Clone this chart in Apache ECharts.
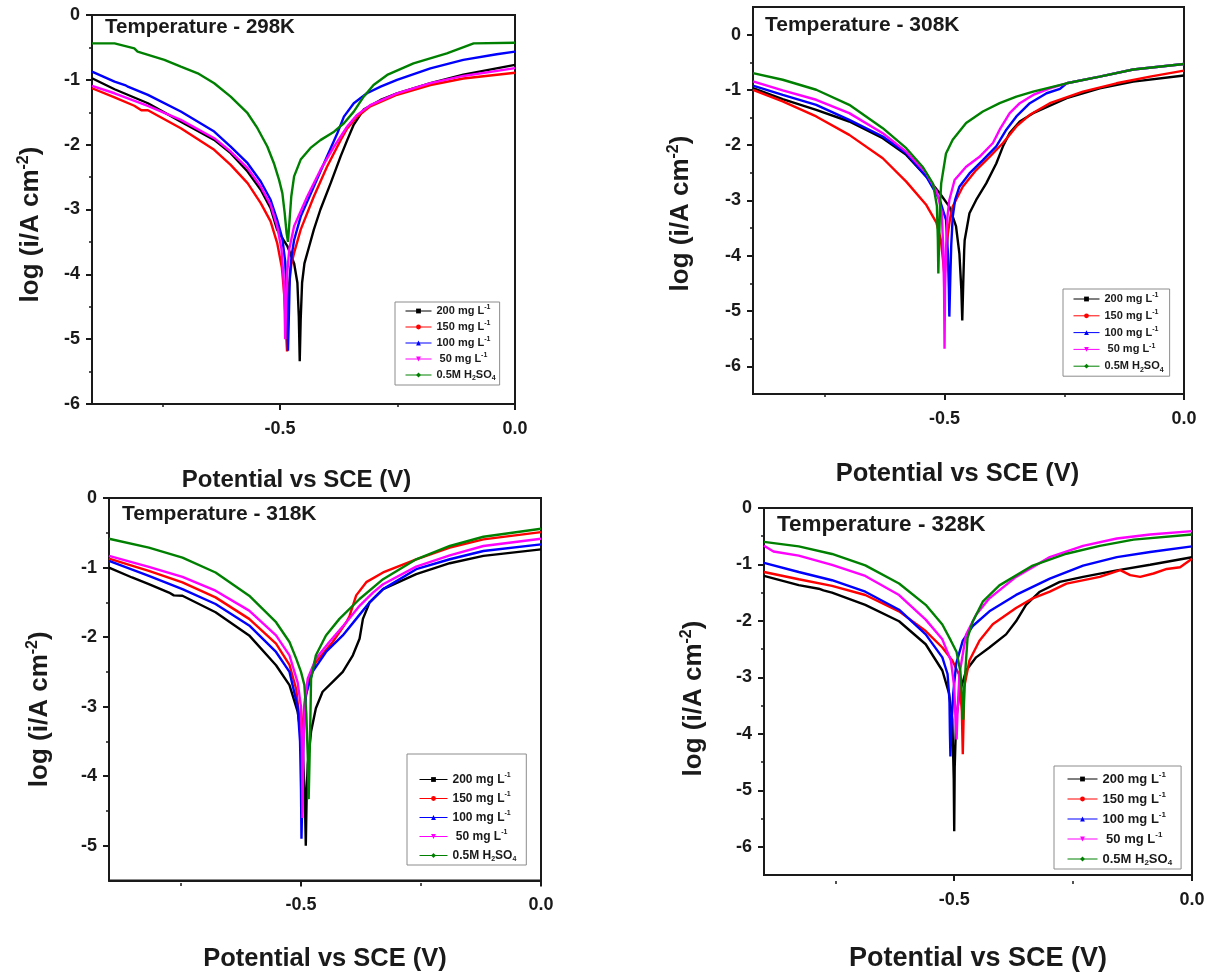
<!DOCTYPE html>
<html>
<head>
<meta charset="utf-8">
<script src="https://cdn.jsdelivr.net/npm/echarts@6/dist/echarts.min.js"></script>
<style>
  html, body { margin: 0; padding: 0; background: #fff; }
  #chart { width: 1221px; height: 975px; }
</style>
</head>
<body>
<div id="chart"></div>
<script>
// Potentiodynamic polarisation (Tafel) curves at four temperatures.
// Each curve: [potential vs SCE (V), log(i / A cm^-2)]

const seriesNames = ['200 mg L-1', '150 mg L-1', '100 mg L-1', '50 mg L-1', '0.5M H2SO4'];
const temperatures = ['298K', '308K', '318K', '328K'];
const xTickValues = [-0.5, 0];
const xMinorValues = [-0.75, -0.25];
const yTickValues = [
  [0, -1, -2, -3, -4, -5, -6],
  [0, -1, -2, -3, -4, -5, -6],
  [0, -1, -2, -3, -4, -5],
  [0, -1, -2, -3, -4, -5, -6]
];
const yMinorValues = [
  [-0.5, -1.5, -2.5, -3.5, -4.5, -5.5],
  [-0.5, -1.5, -2.5, -3.5, -4.5, -5.5],
  [-0.5, -1.5, -2.5, -3.5, -4.5],
  [-0.5, -1.5, -2.5, -3.5, -4.5, -5.5]
];
const yRanges = [[-6, 0], [-6.5, 0.5], [-5.5, 0], [-6.5, 0]];

// ---- 298 K ----
const t298_200 = [[-0.9,-0.976],[-0.852,-1.145],[-0.781,-1.361],[-0.711,-1.644],[-0.640,-1.926],[-0.605,-2.131],[-0.569,-2.414],[-0.541,-2.696],[-0.520,-2.979],[-0.506,-3.313],[-0.484,-3.57],[-0.470,-3.83],[-0.463,-4.13],[-0.460,-4.65],[-0.458,-5.34],[-0.456,-4.7],[-0.453,-4.13],[-0.448,-3.83],[-0.438,-3.57],[-0.428,-3.31],[-0.414,-3.0],[-0.392,-2.59],[-0.371,-2.18],[-0.357,-1.93],[-0.343,-1.69],[-0.322,-1.46],[-0.286,-1.31],[-0.251,-1.21],[-0.180,-1.05],[-0.110,-0.92],[0,-0.77]];
const t298_150 = [[-0.9,-1.13],[-0.852,-1.27],[-0.81,-1.40],[-0.795,-1.47],[-0.781,-1.47],[-0.711,-1.746],[-0.640,-2.080],[-0.605,-2.311],[-0.569,-2.594],[-0.541,-2.902],[-0.520,-3.184],[-0.506,-3.518],[-0.496,-3.9],[-0.490,-4.4],[-0.487,-4.9],[-0.485,-5.19],[-0.483,-4.8],[-0.481,-4.2],[-0.476,-3.85],[-0.470,-3.67],[-0.456,-3.31],[-0.428,-2.80],[-0.400,-2.34],[-0.371,-1.93],[-0.357,-1.75],[-0.336,-1.57],[-0.308,-1.41],[-0.251,-1.23],[-0.180,-1.08],[-0.110,-0.98],[0,-0.89]];
const t298_100 = [[-0.9,-0.873],[-0.852,-1.027],[-0.830,-1.08],[-0.825,-1.10],[-0.781,-1.233],[-0.711,-1.489],[-0.640,-1.798],[-0.605,-2.029],[-0.569,-2.286],[-0.541,-2.568],[-0.520,-2.850],[-0.506,-3.159],[-0.495,-3.45],[-0.489,-3.8],[-0.486,-4.3],[-0.484,-4.8],[-0.483,-5.18],[-0.481,-4.6],[-0.479,-4.0],[-0.475,-3.7],[-0.470,-3.47],[-0.456,-3.11],[-0.428,-2.645],[-0.400,-2.183],[-0.378,-1.823],[-0.364,-1.567],[-0.343,-1.361],[-0.315,-1.207],[-0.286,-1.104],[-0.251,-1.002],[-0.180,-0.822],[-0.110,-0.693],[-0.039,-0.606],[0,-0.565]];
const t298_50 = [[-0.9,-1.094],[-0.852,-1.207],[-0.781,-1.402],[-0.711,-1.618],[-0.640,-1.900],[-0.605,-2.106],[-0.569,-2.363],[-0.541,-2.645],[-0.520,-2.928],[-0.506,-3.261],[-0.497,-3.6],[-0.492,-4.1],[-0.490,-4.6],[-0.489,-5.0],[-0.487,-4.5],[-0.485,-4.0],[-0.480,-3.6],[-0.470,-3.26],[-0.442,-2.80],[-0.414,-2.39],[-0.385,-2.03],[-0.357,-1.72],[-0.336,-1.54],[-0.308,-1.39],[-0.251,-1.21],[-0.180,-1.05],[-0.110,-0.94],[0,-0.82]];
const t298_acid = [[-0.9,-0.437],[-0.852,-0.437],[-0.810,-0.514],[-0.803,-0.565],[-0.746,-0.693],[-0.711,-0.796],[-0.675,-0.899],[-0.640,-1.053],[-0.605,-1.258],[-0.569,-1.515],[-0.548,-1.746],[-0.527,-2.029],[-0.513,-2.286],[-0.502,-2.543],[-0.495,-2.748],[-0.490,-3.056],[-0.486,-3.364],[-0.483,-3.5],[-0.480,-3.2],[-0.476,-2.8],[-0.470,-2.49],[-0.456,-2.23],[-0.435,-2.05],[-0.414,-1.93],[-0.385,-1.80],[-0.364,-1.67],[-0.343,-1.49],[-0.322,-1.26],[-0.301,-1.08],[-0.272,-0.925],[-0.216,-0.745],[-0.145,-0.591],[-0.088,-0.437],[0,-0.427]];

// ---- 308 K ----
const t308_200 = [[-0.9,-0.967],[-0.838,-1.166],[-0.768,-1.360],[-0.699,-1.571],[-0.629,-1.873],[-0.580,-2.175],[-0.538,-2.568],[-0.510,-2.87],[-0.490,-3.11],[-0.476,-3.47],[-0.469,-3.96],[-0.465,-4.6],[-0.463,-5.17],[-0.461,-4.5],[-0.459,-3.9],[-0.458,-3.72],[-0.448,-3.23],[-0.434,-2.99],[-0.413,-2.69],[-0.392,-2.33],[-0.378,-2.02],[-0.364,-1.78],[-0.343,-1.57],[-0.315,-1.42],[-0.245,-1.15],[-0.176,-0.97],[-0.106,-0.85],[0,-0.74]];
const t308_150 = [[-0.9,-0.997],[-0.838,-1.208],[-0.768,-1.480],[-0.699,-1.813],[-0.629,-2.236],[-0.580,-2.659],[-0.538,-3.082],[-0.517,-3.4],[-0.508,-3.7],[-0.503,-4.1],[-0.500,-4.38],[-0.497,-4.0],[-0.493,-3.6],[-0.488,-3.3],[-0.483,-3.11],[-0.462,-2.75],[-0.434,-2.45],[-0.406,-2.21],[-0.378,-1.96],[-0.350,-1.66],[-0.322,-1.45],[-0.280,-1.24],[-0.211,-1.03],[-0.141,-0.88],[-0.071,-0.76],[0,-0.65]];
const t308_100 = [[-0.9,-0.924],[-0.838,-1.088],[-0.768,-1.269],[-0.699,-1.541],[-0.629,-1.843],[-0.580,-2.145],[-0.538,-2.568],[-0.510,-2.99],[-0.497,-3.35],[-0.493,-3.96],[-0.491,-4.6],[-0.490,-5.1],[-0.488,-4.4],[-0.486,-3.8],[-0.483,-3.3],[-0.478,-2.99],[-0.469,-2.75],[-0.448,-2.51],[-0.420,-2.27],[-0.392,-2.02],[-0.371,-1.72],[-0.350,-1.48],[-0.322,-1.24],[-0.287,-1.06],[-0.259,-0.98],[-0.245,-0.88],[-0.176,-0.76],[-0.106,-0.63],[0,-0.53]];
const t308_50 = [[-0.9,-0.846],[-0.838,-1.009],[-0.768,-1.178],[-0.699,-1.420],[-0.629,-1.782],[-0.580,-2.115],[-0.538,-2.508],[-0.516,-2.85],[-0.506,-3.2],[-0.503,-3.8],[-0.501,-4.6],[-0.500,-5.68],[-0.499,-4.6],[-0.497,-3.9],[-0.494,-3.3],[-0.490,-2.99],[-0.479,-2.63],[-0.455,-2.39],[-0.427,-2.21],[-0.399,-1.96],[-0.385,-1.72],[-0.364,-1.42],[-0.343,-1.24],[-0.315,-1.09],[-0.280,-0.97],[-0.245,-0.88],[-0.176,-0.76],[-0.106,-0.63],[0,-0.53]];
const t308_acid = [[-0.9,-0.695],[-0.838,-0.816],[-0.768,-0.997],[-0.699,-1.269],[-0.629,-1.692],[-0.580,-2.054],[-0.545,-2.40],[-0.524,-2.70],[-0.516,-3.1],[-0.514,-3.7],[-0.513,-4.32],[-0.511,-3.6],[-0.509,-3.0],[-0.507,-2.69],[-0.497,-2.15],[-0.483,-1.90],[-0.455,-1.60],[-0.420,-1.39],[-0.385,-1.24],[-0.350,-1.12],[-0.315,-1.03],[-0.245,-0.88],[-0.176,-0.76],[-0.106,-0.63],[0,-0.53]];

// ---- 318 K ----
const t318_200 = [[-0.9,-1.0],[-0.852,-1.143],[-0.817,-1.238],[-0.775,-1.36],[-0.765,-1.40],[-0.747,-1.405],[-0.678,-1.643],[-0.608,-1.976],[-0.552,-2.405],[-0.524,-2.690],[-0.507,-3.071],[-0.497,-3.55],[-0.492,-4.3],[-0.490,-5.0],[-0.488,-4.2],[-0.486,-3.833],[-0.479,-3.357],[-0.469,-3.024],[-0.455,-2.786],[-0.434,-2.643],[-0.413,-2.5],[-0.392,-2.262],[-0.378,-2.024],[-0.371,-1.738],[-0.357,-1.5],[-0.329,-1.31],[-0.260,-1.095],[-0.190,-0.938],[-0.120,-0.833],[0,-0.738]];
const t318_150 = [[-0.9,-0.871],[-0.817,-1.048],[-0.747,-1.214],[-0.678,-1.429],[-0.608,-1.738],[-0.552,-2.095],[-0.524,-2.40],[-0.510,-2.75],[-0.503,-3.2],[-0.499,-3.7],[-0.497,-3.3],[-0.493,-2.98],[-0.483,-2.6],[-0.469,-2.36],[-0.434,-2.07],[-0.406,-1.79],[-0.399,-1.70],[-0.385,-1.40],[-0.364,-1.21],[-0.329,-1.07],[-0.260,-0.881],[-0.190,-0.714],[-0.120,-0.595],[0,-0.49]];
const t318_100 = [[-0.9,-0.905],[-0.817,-1.119],[-0.747,-1.31],[-0.678,-1.524],[-0.608,-1.833],[-0.552,-2.214],[-0.524,-2.5],[-0.507,-3.0],[-0.502,-3.5],[-0.500,-4.2],[-0.499,-4.9],[-0.497,-4.2],[-0.495,-3.5],[-0.490,-2.833],[-0.476,-2.5],[-0.448,-2.214],[-0.413,-1.976],[-0.385,-1.738],[-0.357,-1.5],[-0.329,-1.31],[-0.260,-1.024],[-0.190,-0.881],[-0.120,-0.762],[0,-0.667]];
const t318_50 = [[-0.9,-0.833],[-0.817,-0.99],[-0.747,-1.133],[-0.678,-1.333],[-0.608,-1.619],[-0.552,-1.976],[-0.524,-2.262],[-0.507,-2.65],[-0.500,-3.0],[-0.498,-3.6],[-0.497,-4.6],[-0.495,-3.6],[-0.492,-2.9],[-0.486,-2.6],[-0.469,-2.31],[-0.441,-2.07],[-0.406,-1.79],[-0.378,-1.55],[-0.350,-1.36],[-0.329,-1.24],[-0.260,-0.986],[-0.190,-0.824],[-0.120,-0.690],[0,-0.586]];
const t318_acid = [[-0.9,-0.586],[-0.817,-0.714],[-0.747,-0.857],[-0.678,-1.071],[-0.608,-1.405],[-0.552,-1.786],[-0.524,-2.071],[-0.510,-2.31],[-0.500,-2.5],[-0.493,-2.69],[-0.489,-3.1],[-0.486,-3.7],[-0.484,-4.33],[-0.482,-3.7],[-0.480,-3.0],[-0.479,-2.6],[-0.469,-2.262],[-0.448,-1.976],[-0.420,-1.738],[-0.378,-1.452],[-0.329,-1.167],[-0.260,-0.881],[-0.190,-0.690],[-0.120,-0.557],[0,-0.443]];

// ---- 328 K ----
const t328_200 = [[-0.9,-1.203],[-0.827,-1.366],[-0.785,-1.43],[-0.775,-1.46],[-0.757,-1.50],[-0.687,-1.715],[-0.616,-2.006],[-0.560,-2.413],[-0.525,-2.878],[-0.511,-3.28],[-0.504,-3.75],[-0.501,-4.8],[-0.500,-5.727],[-0.499,-4.6],[-0.496,-3.75],[-0.489,-3.285],[-0.475,-2.878],[-0.454,-2.645],[-0.426,-2.471],[-0.391,-2.238],[-0.370,-2.006],[-0.349,-1.715],[-0.320,-1.483],[-0.278,-1.308],[-0.229,-1.221],[-0.158,-1.105],[-0.088,-1.006],[0,-0.872]];
const t328_150 = [[-0.9,-1.134],[-0.827,-1.262],[-0.757,-1.378],[-0.687,-1.541],[-0.616,-1.831],[-0.560,-2.180],[-0.525,-2.471],[-0.504,-2.7],[-0.490,-2.95],[-0.484,-3.6],[-0.482,-4.36],[-0.480,-3.6],[-0.479,-3.17],[-0.468,-2.70],[-0.447,-2.35],[-0.419,-2.06],[-0.370,-1.77],[-0.335,-1.60],[-0.299,-1.48],[-0.264,-1.34],[-0.194,-1.22],[-0.151,-1.10],[-0.130,-1.19],[-0.109,-1.22],[-0.081,-1.16],[-0.053,-1.08],[-0.025,-1.05],[0,-0.90]];
const t328_100 = [[-0.9,-0.971],[-0.827,-1.134],[-0.757,-1.279],[-0.687,-1.483],[-0.616,-1.802],[-0.560,-2.238],[-0.525,-2.645],[-0.514,-2.94],[-0.510,-3.4],[-0.509,-4.0],[-0.508,-4.4],[-0.506,-3.9],[-0.502,-3.28],[-0.496,-2.76],[-0.482,-2.35],[-0.461,-2.09],[-0.426,-1.83],[-0.370,-1.54],[-0.299,-1.25],[-0.229,-1.02],[-0.158,-0.87],[-0.088,-0.78],[0,-0.68]];
const t328_50 = [[-0.9,-0.669],[-0.88,-0.77],[-0.827,-0.843],[-0.757,-1.006],[-0.687,-1.203],[-0.616,-1.541],[-0.560,-1.977],[-0.525,-2.326],[-0.507,-2.70],[-0.500,-3.17],[-0.497,-3.8],[-0.495,-4.1],[-0.493,-3.6],[-0.489,-2.94],[-0.475,-2.24],[-0.454,-1.89],[-0.426,-1.60],[-0.370,-1.22],[-0.299,-0.87],[-0.229,-0.67],[-0.158,-0.54],[-0.088,-0.47],[0,-0.41]];
const t328_acid = [[-0.9,-0.599],[-0.827,-0.680],[-0.757,-0.814],[-0.687,-1.017],[-0.616,-1.337],[-0.560,-1.715],[-0.525,-2.064],[-0.507,-2.35],[-0.495,-2.55],[-0.487,-2.9],[-0.483,-3.4],[-0.481,-3.75],[-0.479,-3.3],[-0.476,-2.8],[-0.472,-2.30],[-0.461,-2.01],[-0.440,-1.66],[-0.405,-1.37],[-0.335,-1.02],[-0.264,-0.81],[-0.194,-0.67],[-0.123,-0.56],[0,-0.47]];

const panelData = [
  [t298_200, t298_150, t298_100, t298_50, t298_acid],
  [t308_200, t308_150, t308_100, t308_50, t308_acid],
  [t318_200, t318_150, t318_100, t318_50, t318_acid],
  [t328_200, t328_150, t328_100, t328_50, t328_acid]
];

// ---- styling ----
const FONT = '"Liberation Sans", Arial, Helvetica, sans-serif';
const INK = '#1a1a1a';
const seriesColors = ['#000000', '#ff0000', '#0000ff', '#ff00ff', '#008000'];
const seriesSymbols = ['rect', 'circle', 'triangle', 'path://M0,0L10,0L5,9Z', 'diamond'];

const layout = [
  { grid: { left: 92, top: 15, width: 423, height: 389 },
    title: { left: 105, top: 16, size: 20.5 },
    xName: { size: 24, gap: 62, shift: -7 }, yName: { size: 26, gap: 46, down: 15 },
    legend: { left: 395, top: 302, padding: [2, 4, 3, 10], itemWidth: 26, font: 11, lineHeight: 14, gap: 2 } },
  { grid: { left: 753, top: 7, width: 431, height: 387 },
    title: { left: 765, top: 14, size: 21 },
    xName: { size: 25.5, gap: 65, shift: -11 }, yName: { size: 26, gap: 57, down: 13 },
    legend: { left: 1063, top: 289, padding: [3, 6, 3, 10], itemWidth: 26, font: 11, lineHeight: 14, gap: 2.8 } },
  { grid: { left: 109, top: 498, width: 432, height: 385 },
    title: { left: 122, top: 503, size: 21 },
    xName: { size: 25.5, gap: 64, shift: 0 }, yName: { size: 26, gap: 54, down: 20 },
    legend: { left: 407, top: 754, padding: [18, 10, 2, 12], itemWidth: 28, font: 12, lineHeight: 15, gap: 4 } },
  { grid: { left: 764, top: 508, width: 428, height: 373 },
    title: { left: 777, top: 513, size: 22.5 },
    xName: { size: 27, gap: 68, shift: 0 }, yName: { size: 26, gap: 55, down: 7 },
    legend: { left: 1054, top: 766, padding: [5, 9, 2, 13], itemWidth: 30, font: 13, lineHeight: 16, gap: 4 } }
];

function legendLabel(name) {
  let s = name.replace(/ L-1$/, ' L{sup|-1}').replace('H2SO4', 'H{sub|2}SO{sub|4}');
  if (name.indexOf('50 mg') === 0) s = ' ' + s;
  return s;
}

const option = {
  animation: false,
  backgroundColor: '#ffffff',
  title: [], grid: [], xAxis: [], yAxis: [], legend: [], series: []
};

temperatures.forEach((temp, p) => {
  const L = layout[p];
  option.title.push({
    text: 'Temperature - ' + temp, left: L.title.left, top: L.title.top, padding: 0,
    textStyle: { fontFamily: FONT, fontSize: L.title.size, fontWeight: 'bold', color: INK, lineHeight: L.title.size + 2 }
  });
  option.grid.push(Object.assign({ show: true, borderColor: INK, borderWidth: 2, backgroundColor: 'transparent', containLabel: false }, L.grid));

  const axisLineStyle = { color: INK, width: 2 };
  const tickLabel = { fontFamily: FONT, fontSize: 18, fontWeight: 'bold', color: INK };

  // main x axis (labels, major ticks, title)
  option.xAxis.push({
    type: 'value', gridIndex: p, position: 'bottom', min: -0.9, max: 0,
    axisLine: { show: true, onZero: false, lineStyle: axisLineStyle },
    axisTick: { show: true, inside: false, length: 6, customValues: xTickValues, lineStyle: { color: INK, width: 2 } },
    axisLabel: Object.assign({ show: true, margin: 16, customValues: xTickValues, formatter: v => v.toFixed(1) }, tickLabel),
    splitLine: { show: false },
    name: 'Potential vs SCE (V)', nameLocation: 'middle', nameGap: L.xName.gap,
    nameTextStyle: { fontFamily: FONT, fontSize: L.xName.size, fontWeight: 'bold', color: INK, lineHeight: L.xName.size + 4,
      padding: L.xName.shift < 0 ? [0, -2 * L.xName.shift, 0, 0] : [0, 0, 0, 2 * L.xName.shift] }
  });
  // minor x ticks: a top-side axis shifted down onto the bottom edge, ticks pointing outwards
  option.xAxis.push({
    type: 'value', gridIndex: p, position: 'top', offset: -L.grid.height, min: -0.9, max: 0,
    axisLine: { show: false, onZero: false },
    axisTick: { show: true, inside: true, length: 3, customValues: xMinorValues, lineStyle: { color: INK, width: 1.5 } },
    axisLabel: { show: false }, splitLine: { show: false }
  });
  // main y axis
  option.yAxis.push({
    type: 'value', gridIndex: p, position: 'left', min: yRanges[p][0], max: yRanges[p][1],
    axisLine: { show: true, onZero: false, lineStyle: axisLineStyle },
    axisTick: { show: true, inside: false, length: 6, customValues: yTickValues[p], lineStyle: { color: INK, width: 2 } },
    axisLabel: Object.assign({ show: true, margin: 12, customValues: yTickValues[p], formatter: v => (Math.abs(v) < 1e-9 ? '0' : String(Math.round(v))) }, tickLabel),
    splitLine: { show: false },
    name: 'log (i/A cm{sup|-2})', nameLocation: 'middle', nameRotate: 90, nameGap: L.yName.gap,
    nameTextStyle: { fontFamily: FONT, fontSize: L.yName.size, fontWeight: 'bold', color: INK, lineHeight: L.yName.size + 4,
      padding: [0, 2 * L.yName.down, 0, 0],
      rich: { sup: { fontFamily: FONT, fontSize: Math.round(L.yName.size * 0.6), fontWeight: 'bold', color: INK, verticalAlign: 'top', lineHeight: Math.round(L.yName.size * 0.6) } } }
  });
  // minor y ticks: a right-side axis shifted onto the left edge, ticks pointing outwards
  option.yAxis.push({
    type: 'value', gridIndex: p, position: 'right', offset: -L.grid.width, min: yRanges[p][0], max: yRanges[p][1],
    axisLine: { show: false, onZero: false },
    axisTick: { show: true, inside: true, length: 3, customValues: yMinorValues[p], lineStyle: { color: INK, width: 1.5 } },
    axisLabel: { show: false }, splitLine: { show: false }
  });

  const lg = L.legend;
  const supSize = Math.round(lg.font * 0.62);
  option.legend.push({
    orient: 'vertical', left: lg.left, top: lg.top, padding: lg.padding,
    itemWidth: lg.itemWidth, itemHeight: 6, itemGap: lg.gap,
    borderColor: '#8c8c8c', borderWidth: 1, borderRadius: 0, backgroundColor: '#ffffff',
    selectedMode: false, data: seriesNames.slice(),
    lineStyle: { width: 1 },
    formatter: legendLabel,
    textStyle: { fontFamily: FONT, fontSize: lg.font, fontWeight: 'bold', color: INK, lineHeight: lg.lineHeight,
      rich: {
        sup: { fontFamily: FONT, fontSize: supSize, fontWeight: 'bold', color: INK, verticalAlign: 'top', lineHeight: supSize },
        sub: { fontFamily: FONT, fontSize: supSize, fontWeight: 'bold', color: INK, verticalAlign: 'bottom', lineHeight: supSize }
      } }
  });

  panelData[p].forEach((curve, s) => {
    option.series.push({
      type: 'line', name: seriesNames[s], xAxisIndex: 2 * p, yAxisIndex: 2 * p,
      data: curve, showSymbol: false, symbol: seriesSymbols[s], symbolSize: 5,
      lineStyle: { color: seriesColors[s], width: 2.4 },
      itemStyle: { color: seriesColors[s] },
      emphasis: { disabled: true }, z: 2 + s
    });
  });
});

const chart = echarts.init(document.getElementById('chart'), null, { renderer: 'canvas' });
chart.setOption(option);
</script>
</body>
</html>
